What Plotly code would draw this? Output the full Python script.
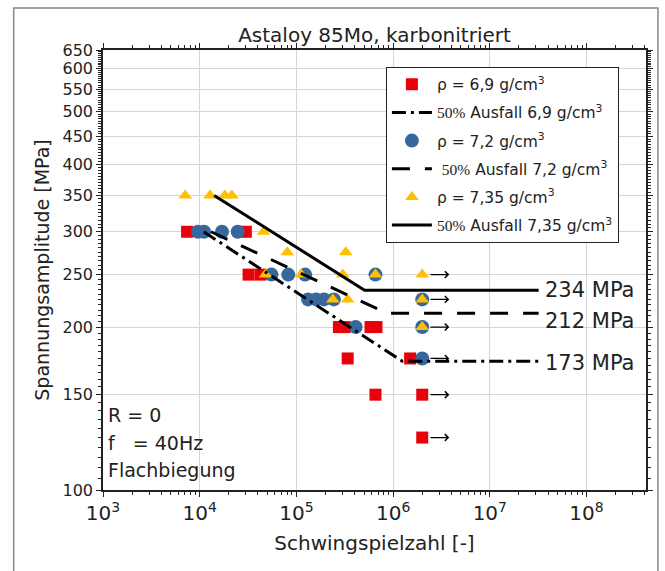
import numpy as np
import plotly.graph_objects as go

# ---------------- data ----------------
# rho = 6.9 g/cm3 (red squares)
n69 = [7400, 30000, 32000, 42600, 275000, 316000, 584000, 673000, 339000, 657000, 1500000, 2000000, 2000000]
s69 = [300, 300, 250, 250, 200, 200, 200, 200, 175, 150, 175, 150, 125]
r69 = [0, 0, 0, 0, 0, 0, 0, 0, 0, 0, 0, 1, 1]   # 1 = runout

# rho = 7.2 g/cm3 (blue circles)
n72 = [9600, 11100, 17000, 24700, 55200, 82400, 123000, 657000, 132000, 160000, 193000, 244000, 410000, 2000000, 2000000, 2000000]
s72 = [300, 300, 300, 300, 250, 250, 250, 250, 225, 225, 225, 225, 200, 225, 200, 175]
r72 = [0, 0, 0, 0, 0, 0, 0, 0, 0, 0, 0, 0, 0, 1, 1, 1]

# rho = 7.35 g/cm3 (yellow triangles)
n735 = [7080, 12800, 18200, 21500, 45700, 47900, 80500, 324000, 112000, 302000, 657000, 238000, 339000, 2000000, 2000000, 2000000]
s735 = [350, 350, 350, 350, 300, 250, 275, 275, 250, 250, 250, 225, 225, 250, 225, 200]
r735 = [0, 0, 0, 0, 0, 0, 0, 0, 0, 0, 0, 0, 0, 1, 1, 1]

# 50% failure lines (N, S)
l69_n = [11000, 1240000, 32000000]
l69_s = [300, 173, 173]
l72_n = [13100, 870000, 32000000]
l72_s = [300, 212, 212]
l735_n = [14100, 507000, 32000000]
l735_s = [350, 234, 234]

line_labels = ["234 MPa", "212 MPa", "173 MPa"]
y_ticks = [100, 150, 200, 250, 300, 350, 400, 450, 500, 550, 600, 650]

FONT = "DejaVu Sans"
RED = "#e8000a"
BLUE = "#36689e"
YEL = "#ffc000"
TXT = "#222"

fig = go.Figure()

serif = '<span style="font-family:\'Liberation Serif\'">50%</span>'

fig.add_trace(go.Scatter(x=n69, y=s69, mode="markers", name="ρ = 6,9 g/cm<sup>3</sup>",
                         marker=dict(symbol="square", size=12, color=RED),
                         legendrank=1, legendgroup="a"))
fig.add_trace(go.Scatter(x=n72, y=s72, mode="markers", name="ρ = 7,2 g/cm<sup>3</sup>",
                         marker=dict(symbol="circle", size=14, color=BLUE),
                         legendrank=3, legendgroup="c"))
fig.add_trace(go.Scatter(x=n735, y=s735, mode="markers", name="ρ = 7,35 g/cm<sup>3</sup>",
                         marker=dict(symbol="triangle-up", size=12, color=YEL),
                         legendrank=5, legendgroup="e"))

fig.add_trace(go.Scatter(x=l69_n, y=l69_s, mode="lines", name=serif + " Ausfall 6,9 g/cm<sup>3</sup>",
                         line=dict(color="black", width=3, dash="14px,5px,3px,5px"),
                         legendrank=2, legendgroup="b"))
fig.add_trace(go.Scatter(x=l72_n, y=l72_s, mode="lines", name=" " + serif + " Ausfall 7,2 g/cm<sup>3</sup>",
                         line=dict(color="black", width=3, dash="18px,15px"),
                         legendrank=4, legendgroup="d"))
fig.add_trace(go.Scatter(x=l735_n, y=l735_s, mode="lines", name=serif + " Ausfall 7,35 g/cm<sup>3</sup>",
                         line=dict(color="black", width=3),
                         legendrank=6, legendgroup="f"))

annotations = []
# runout arrows
runouts = set()
for nn, ss, rr in [(n69, s69, r69), (n72, s72, r72), (n735, s735, r735)]:
    for a, b, c in zip(nn, ss, rr):
        if c:
            runouts.add((a, b))
for a, b in sorted(runouts):
    lx = np.log10(a)
    ly = np.log10(b)
    annotations.append(dict(x=lx + 0.28, y=ly, ax=lx + 0.07, ay=ly, xref="x", yref="y",
                            axref="x", ayref="y", text="", showarrow=True,
                            arrowhead=4, arrowsize=1.1, arrowwidth=1.2, arrowcolor="black"))

# line level labels
for lbl, nn, ss, ysh in [(line_labels[0], l735_n, l735_s, 0), (line_labels[1], l72_n, l72_s, -8),
                         (line_labels[2], l69_n, l69_s, -2)]:
    annotations.append(dict(x=np.log10(nn[-1]), y=np.log10(ss[-1]), xref="x", yref="y",
                            text=lbl, showarrow=False, xanchor="left", yanchor="middle",
                            xshift=4, yshift=ysh, font=dict(family=FONT, size=21, color=TXT)))

# condition text
for txt, yp in [("R = 0", 0.1705), ("f\u00a0\u00a0\u00a0= 40Hz", 0.1068), ("Flachbiegung", 0.0455)]:
    annotations.append(dict(x=0.006, y=yp, xref="paper", yref="paper", text=txt, showarrow=False,
                            xanchor="left", yanchor="middle",
                            font=dict(family=FONT, size=19, color=TXT)))

minor_y = [v for v in range(100, 651, 5) if v not in y_ticks]

fig.update_layout(
    width=665, height=571,
    margin=dict(l=103, r=14, t=50, b=81),
    paper_bgcolor="white", plot_bgcolor="white",
    font=dict(family=FONT, color=TXT),
    title=dict(text="Astaloy 85Mo, karbonitriert", x=0.5, xref="paper", y=1 - 35 / 571,
               yanchor="middle", font=dict(family=FONT, size=20, color=TXT)),
    showlegend=True,
    legend=dict(x=0.521, y=0.962, xanchor="left", yanchor="top", bgcolor="white",
                bordercolor=TXT, borderwidth=1, font=dict(family=FONT, size=15.5, color=TXT),
                tracegroupgap=5, itemwidth=40),
    annotations=annotations,
    shapes=[dict(type="rect", xref="paper", yref="paper", x0=-0.1645, x1=1.022, y0=-0.2, y1=1.0955,
                 line=dict(color="#888", width=1.5), fillcolor="rgba(0,0,0,0)", layer="below")],
)

fig.update_xaxes(type="log", range=[3, 8.615], dtick=1, exponentformat="power",
                 showline=True, linecolor=TXT, linewidth=1.5, mirror="allticks",
                 ticks="outside", ticklen=5, tickcolor=TXT,
                 minor=dict(ticks="outside", dtick="D1", ticklen=3, tickcolor=TXT, showgrid=False),
                 showgrid=True, gridcolor="#d6d6d6", gridwidth=1, zeroline=False,
                 tickfont=dict(family=FONT, size=16, color=TXT),
                 title=dict(text="Schwingspielzahl [-]", font=dict(family=FONT, size=20, color=TXT), standoff=12))
fig.update_yaxes(type="log", range=[2, np.log10(650)], tickmode="array", tickvals=y_ticks,
                 showline=True, linecolor=TXT, linewidth=1.5, mirror="allticks",
                 ticks="outside", ticklen=5, tickcolor=TXT,
                 minor=dict(ticks="outside", tickmode="array", tickvals=minor_y, ticklen=3,
                            tickcolor=TXT, showgrid=False),
                 showgrid=True, gridcolor="#d6d6d6", gridwidth=1, zeroline=False,
                 tickfont=dict(family=FONT, size=16, color=TXT),
                 title=dict(text="Spannungsamplitude [MPa]", font=dict(family=FONT, size=19, color=TXT), standoff=8))

fig.write_html("out.html")
